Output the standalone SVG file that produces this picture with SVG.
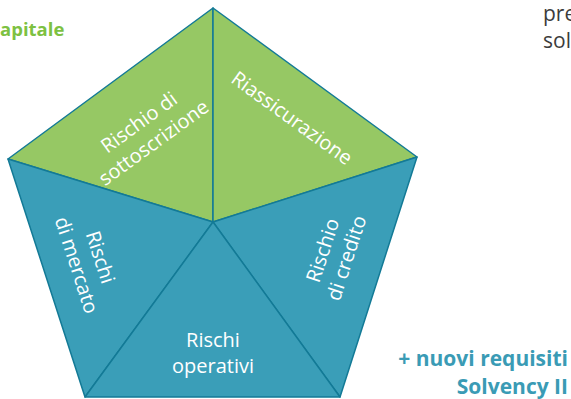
<svg xmlns="http://www.w3.org/2000/svg" width="571" height="399" viewBox="0 0 571 399">
<style>
.g{fill:#96c864;stroke:#137a96;stroke-width:1.5;stroke-linejoin:round}
.b{fill:#3a9eb8;stroke:#137a96;stroke-width:1.5;stroke-linejoin:round}
.t{font-family:"Open Sans","Noto Sans",sans-serif;font-size:20px;fill:#ffffff;text-anchor:middle}
.h{font-family:"Open Sans","Noto Sans",sans-serif;font-weight:bold}
.n{font-family:"Open Sans","Noto Sans",sans-serif;font-size:21px;fill:#3c3c3c}
</style>
<rect width="571" height="399" fill="#ffffff"/>
<g id="sottoscrizione">
<polygon class="g" points="213,8 213,222 8,159"/>
<g transform="translate(146,132) rotate(-36)"><text class="t" x="0" y="-5">Rischio di</text><text class="t" x="0" y="20">sottoscrizione</text></g>
</g>
<g id="riassicurazione">
<polygon class="g" points="213,8 417,157 213,222"/>
<text class="t" transform="translate(292,118) rotate(36)" x="0" y="7">Riassicurazione</text>
</g>
<g id="mercato">
<polygon class="b" points="8,159 213,222 85,397"/>
<g transform="translate(89,261) rotate(72)"><text class="t" x="0" y="-5">Rischi</text><text class="t" x="0" y="20">di mercato</text></g>
</g>
<g id="credito">
<polygon class="b" points="417,157 340,397 213,222"/>
<g transform="translate(334,254) rotate(-72)"><text class="t" x="0" y="-5">Rischio</text><text class="t" x="0" y="20">di credito</text></g>
</g>
<g id="operativi">
<polygon class="b" points="213,222 340,397 85,397"/>
<text class="t" x="213" y="347">Rischi</text>
<text class="t" x="213" y="373">operativi</text>
</g>
<g id="connectors"></g>
<text class="h" x="0" y="36" fill="#7dc142" font-size="18.5">apitale</text>
<text class="n" x="543" y="21">pre</text>
<text class="n" x="543" y="48">sol</text>
<text class="h" x="568" y="366" fill="#3a9bb5" text-anchor="end" font-size="21">+ nuovi requisiti</text>
<text class="h" x="568" y="394" fill="#3a9bb5" text-anchor="end" font-size="21">Solvency II</text>
</svg>
